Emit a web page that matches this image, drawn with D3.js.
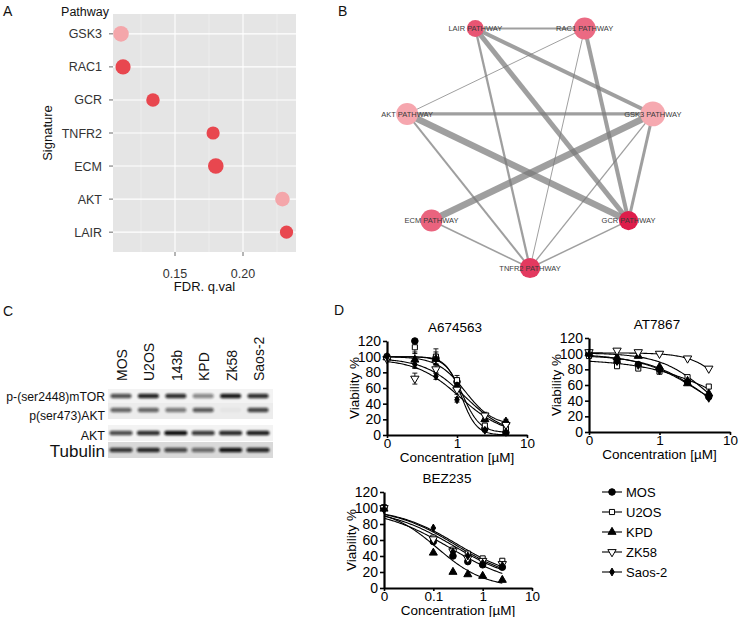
<!DOCTYPE html>
<html><head><meta charset="utf-8">
<script src="https://cdn.jsdelivr.net/npm/d3@7"></script>
<style>
body{margin:0;background:#fff}
svg{display:block}
text{font-family:"Liberation Sans",Arial,sans-serif}
</style>
</head><body>
<svg id="c" width="739" height="617"></svg>
<script>
// ---------- Panel A data ----------
const signatures = ["GSK3","RAC1","GCR","TNFR2","ECM","AKT","LAIR"];
const fdrQ = [0.1103,0.1118,0.1338,0.1780,0.1800,0.2290,0.2320];
const setSize = [56,53,42,40,56,49,40];
const direction = ["low","high","high","high","high","low","high"];
const fdrTicks = [0.15,0.20];
const fdrMinor = [0.125,0.175,0.225];

// ---------- Panel B data ----------
const nodeNames = ["TNFR2 PATHWAY","GCR PATHWAY","GSK3 PATHWAY","RAC1 PATHWAY","LAIR PATHWAY","AKT PATHWAY","ECM PATHWAY"];
const nodeSize = [100,90,150,117,70,117,117];
const nodeScore = [0.8,1.0,0.0,0.45,0.6,0.02,0.5];
const edgeFrom = ["LAIR PATHWAY","LAIR PATHWAY","LAIR PATHWAY","LAIR PATHWAY","RAC1 PATHWAY","RAC1 PATHWAY","RAC1 PATHWAY","AKT PATHWAY","AKT PATHWAY","AKT PATHWAY","GSK3 PATHWAY","GSK3 PATHWAY","GSK3 PATHWAY","ECM PATHWAY","GCR PATHWAY"];
const edgeTo   = ["RAC1 PATHWAY","GSK3 PATHWAY","GCR PATHWAY","TNFR2 PATHWAY","AKT PATHWAY","GCR PATHWAY","TNFR2 PATHWAY","GSK3 PATHWAY","GCR PATHWAY","TNFR2 PATHWAY","ECM PATHWAY","TNFR2 PATHWAY","GCR PATHWAY","TNFR2 PATHWAY","TNFR2 PATHWAY"];
const edgeWeight = [2,4,5,2.3,1,4,1,3.3,6.5,2,6.8,1.3,3,1.6,1.5];

// ---------- Panel C data ----------
const lanes = ["MOS","U2OS","143b","KPD","Zk58","Saos-2"];
const blotRows = ["p-(ser2448)mTOR","p(ser473)AKT","AKT","Tubulin"];
const bandMTOR = [0.70,0.90,0.85,0.45,0.95,0.85];
const bandPAKT = [0.60,0.60,0.50,0.65,0.03,0.75];
const bandAKT  = [0.72,0.85,1.00,0.80,0.88,0.92];
const bandTUB  = [0.80,0.88,0.72,0.55,0.97,0.88];

// ---------- Panel D data ----------
const cellLines = ["MOS","U2OS","KPD","ZK58","Saos-2"];
const concAT = [0,0.25,0.5,1,2.5,5];
const concBEZ = [0,0.1,0.25,0.5,1,2.5];
const viabA674563 = [
  [100,120,98,68,8,3],
  [100,112,100,70,12,8],
  [99,96,97,62,20,17],
  [97,72,84,58,25,13],
  [100,90,75,45,6,4]];
const errA674563 = [
  [0,2,8,5,3,1],
  [0,8,10,6,3,2],
  [0,10,6,5,3,3],
  [0,7,5,6,4,3],
  [0,5,4,3,2,1]];
const viabAT7867 = [
  [101,89,86,80,64,45],
  [97,84,81,77,70,58],
  [100,95,97,83,62,49],
  [102,104,102,100,94,81],
  [99,90,85,78,66,43]];
const viabBEZ235 = [
  [100,58,40,33,29,26],
  [101,63,48,43,37,34],
  [99,44,20,17,15,10],
  [100,61,46,37,34,30],
  [98,75,45,40,31,28]];
// fitted 4-parameter curves: top, bottom, IC50, hill
const fitA674563 = [[100,0,1.15,4],[100,3,1.2,3.5],[100,12,1.3,2.2],[98,0,1.3,1.5],[97,0,1.1,1.4]];
const fitAT7867  = [[98,0,4.2,1.1],[93,0,8,0.8],[101,0,4.8,1.3],[101,0,10.5,1.8],[100,0,4,1.0]];
const fitBEZ235  = [[100,0,0.22,0.62],[100,10,0.3,0.7],[100,0,0.12,0.9],[100,5,0.26,0.65],[100,8,0.28,0.7]];
const viabTicks = [0,20,40,60,80,100,120];

// =====================================================
const svg = d3.select("#c");
const panelLabel = (t,x,y)=>svg.append("text").attr("x",x).attr("y",y).attr("font-size",14).attr("fill","#111").text(t);

// ---------- Panel A ----------
(function(){
  const g = svg.append("g");
  const x = d3.scaleLinear().domain([0.15,0.20]).range([175,243]);
  const y = d3.scalePoint().domain(signatures).range([14,252]).padding(0.6);
  const r = d3.scaleSqrt().domain([0,56]).range([0,7.8]);
  const col = d3.scaleOrdinal().domain(["low","high"]).range(["#f4a6aa","#e8474f"]);
  const L=113,R=296,T=14,B=252;
  g.append("rect").attr("x",L).attr("y",T).attr("width",R-L).attr("height",B-T).attr("fill","#e5e5e5");
  g.selectAll(".mn").data(fdrMinor).join("line").attr("x1",d=>x(d)).attr("x2",d=>x(d)).attr("y1",T).attr("y2",B).attr("stroke","#f2f2f2").attr("stroke-width",0.6);
  g.selectAll(".mj").data(fdrTicks).join("line").attr("x1",d=>x(d)).attr("x2",d=>x(d)).attr("y1",T).attr("y2",B).attr("stroke","#fff").attr("stroke-width",1.1);
  g.selectAll(".hy").data(signatures).join("line").attr("x1",L).attr("x2",R).attr("y1",d=>y(d)).attr("y2",d=>y(d)).attr("stroke","#fff").attr("stroke-width",1.1);
  g.selectAll(".pt").data(signatures).join("circle")
    .attr("cx",(d,i)=>x(fdrQ[i])).attr("cy",d=>y(d)).attr("r",(d,i)=>r(setSize[i]))
    .attr("fill",(d,i)=>col(direction[i]));
  g.selectAll(".yt").data(signatures).join("line").attr("x1",L-4).attr("x2",L).attr("y1",d=>y(d)).attr("y2",d=>y(d)).attr("stroke","#444").attr("stroke-width",0.8);
  g.selectAll(".yl").data(signatures).join("text").attr("x",L-11).attr("y",d=>y(d)).attr("dy","0.36em")
    .attr("text-anchor","end").attr("font-size",12.5).attr("fill","#333").text(d=>d);
  g.selectAll(".xt").data(fdrTicks).join("line").attr("x1",d=>x(d)).attr("x2",d=>x(d)).attr("y1",B).attr("y2",B+4).attr("stroke","#444").attr("stroke-width",0.8);
  g.selectAll(".xl").data(fdrTicks).join("text").attr("x",d=>x(d)).attr("y",B+26).attr("text-anchor","middle").attr("font-size",12.5).attr("fill","#333").text(d=>d3.format(".2f")(d));
  g.append("text").attr("x",(L+R)/2).attr("y",291).attr("text-anchor","middle").attr("font-size",13).attr("fill","#111").text("FDR. q.val");
  g.append("text").attr("transform","translate(52,133) rotate(-90)").attr("text-anchor","middle").attr("font-size",13).attr("fill","#111").text("Signature");
  g.append("text").attr("x",L-4).attr("y",16).attr("text-anchor","end").attr("font-size",12.5).attr("fill","#111").text("Pathway");
})();
panelLabel("A",3,16);

// ---------- Panel B ----------
(function(){
  const g = svg.append("g");
  const cx=530, cy=142, R=126;
  const ang = d3.scalePoint().domain(nodeNames).range([0,6]);
  const pos = n=>{const a=(90-ang(n)*360/7)*Math.PI/180; return [cx+R*Math.cos(a), cy+R*Math.sin(a)];};
  const rs = d3.scaleSqrt().domain([0,150]).range([0,12.4]);
  const col = d3.scaleLinear().domain([0,1]).range(["#f6a9b0","#de1d4b"]).interpolate(d3.interpolateRgb);
  g.selectAll(".e").data(edgeFrom).join("line")
    .attr("x1",(d)=>pos(d)[0]).attr("y1",d=>pos(d)[1])
    .attr("x2",(d,i)=>pos(edgeTo[i])[0]).attr("y2",(d,i)=>pos(edgeTo[i])[1])
    .attr("stroke","#7a7a7a").attr("stroke-opacity",0.72).attr("stroke-width",(d,i)=>edgeWeight[i]);
  g.selectAll(".n").data(nodeNames).join("circle")
    .attr("cx",d=>pos(d)[0]).attr("cy",d=>pos(d)[1]).attr("r",(d,i)=>rs(nodeSize[i]))
    .attr("fill",(d,i)=>col(nodeScore[i]));
  g.selectAll(".t").data(nodeNames).join("text")
    .attr("x",d=>pos(d)[0]).attr("y",d=>pos(d)[1]).attr("dy","0.35em").attr("text-anchor","middle")
    .attr("font-size",7.5).attr("fill","#3a3a3a").text(d=>d);
})();
panelLabel("B",338,16);

// ---------- Panel C ----------
(function(){
  const g = svg.append("g");
  const defs = svg.append("defs");
  defs.append("filter").attr("id","blur").attr("x","-20%").attr("y","-50%").attr("width","140%").attr("height","200%")
    .append("feGaussianBlur").attr("stdDeviation",0.8);
  const lx = d3.scalePoint().domain(lanes).range([121,258]);
  const rowY = [396,410,433,450];
  const bg = [["#f3f3f3",389,14],["#ececec",403,16],["#f3f3f3",425,16],["#d9d9d9",442,16]];
  g.selectAll(".bg").data(bg).join("rect").attr("x",108).attr("y",d=>d[1]).attr("width",165).attr("height",d=>d[2]).attr("fill",d=>d[0]);
  const rowsData = [bandMTOR,bandPAKT,bandAKT,bandTUB];
  const bw=[19,19,21,21];
  rowsData.forEach((arr,ri)=>{
    g.selectAll(".b"+ri).data(lanes).join("rect")
      .attr("x",d=>lx(d)-bw[ri]/2-1).attr("y",rowY[ri]-2.2).attr("width",bw[ri]+2).attr("height",4.4).attr("rx",2)
      .attr("fill","#111").attr("opacity",(d,i)=>arr[i]).attr("filter","url(#blur)");
  });
  g.selectAll(".ln").data(lanes).join("text")
    .attr("transform",d=>`translate(${lx(d)+1},381) rotate(-90)`).attr("dy","0.36em")
    .attr("font-size",14).attr("fill","#111").text(d=>d);
  const fs = [12.2,12.2,12.5,17];
  const by = [401,420,440,457];
  g.selectAll(".rl").data(blotRows).join("text").attr("x",105).attr("y",(d,i)=>by[i]).attr("text-anchor","end")
    .attr("font-size",(d,i)=>fs[i]).attr("fill","#111").text(d=>d);
})();
panelLabel("C",3,316);

// ---------- Panel D ----------
const symbolFor = [d3.symbolCircle,d3.symbolSquare,d3.symbolTriangle,d3.symbolTriangle,d3.symbolDiamond];
const symSize = [34,26,28,30,18];
const symFill = ["#000","#fff","#000","#fff","#000"];
const symRot = [0,0,0,180,0];
function drawMarker(g,i,x,y){
  g.append("path").attr("d",d3.symbol().type(symbolFor[i]).size(symSize[i])())
    .attr("transform",`translate(${x},${y}) rotate(${symRot[i]})`)
    .attr("fill",symFill[i]).attr("stroke","#000").attr("stroke-width",1);
}
function doseChart(opt){
  const g = svg.append("g");
  const x = d3.scaleLog().domain([opt.zeroAt,10]).range([opt.x0,opt.x1]);
  const y = d3.scaleLinear().domain([0,120]).range([opt.y0,opt.y1]);
  const cx = c=> x(c===0?opt.zeroAt:c);
  opt.fits.forEach((f,i)=>{
    const lo = Math.log10(opt.zeroAt), hi = Math.log10(opt.conc[opt.conc.length-1]);
    const xs = d3.range(0,101).map(k=>Math.pow(10,lo+(hi-lo)*k/100));
    const line = d3.line().x(c=>x(c)).y(c=>y(f[1]+(f[0]-f[1])/(1+Math.pow(c/f[2],f[3]))));
    g.append("path").attr("d",line(xs)).attr("fill","none").attr("stroke","#000").attr("stroke-width",1.1);
  });
  if(opt.err){
    opt.vals.forEach((s,i)=>s.forEach((v,j)=>{
      const e=opt.err[i][j]; if(!e) return;
      const px=cx(opt.conc[j]);
      g.append("line").attr("x1",px).attr("x2",px).attr("y1",y(v-e)).attr("y2",y(v+e)).attr("stroke","#000").attr("stroke-width",0.9);
      [v-e,v+e].forEach(w=>g.append("line").attr("x1",px-2.5).attr("x2",px+2.5).attr("y1",y(w)).attr("y2",y(w)).attr("stroke","#000").attr("stroke-width",0.9));
    }));
  }
  opt.vals.forEach((s,i)=>s.forEach((v,j)=>drawMarker(g,i,cx(opt.conc[j]),y(v))));
  const ya = g.append("g").attr("transform",`translate(${opt.x0},0)`).call(d3.axisLeft(y).tickValues(viabTicks).tickSize(4).tickSizeOuter(0).tickPadding(2));
  const xa = g.append("g").attr("transform",`translate(0,${opt.y0})`).call(d3.axisBottom(x).tickValues(opt.xticks).tickFormat((d,i)=>opt.xlabels[i]).tickSize(3).tickSizeOuter(0).tickPadding(0));
  [ya,xa].forEach(a=>{
    a.select(".domain").attr("stroke-width",2.2).attr("stroke","#000");
    a.selectAll(".tick line").attr("stroke-width",1.6);
    a.selectAll("text").attr("font-size",14).attr("fill","#000").attr("font-family","Liberation Sans, Arial, sans-serif");
  });
  xa.selectAll("text").attr("font-size",13.5);
  g.append("text").attr("x",opt.titleX).attr("y",opt.y1-9).attr("text-anchor","middle").attr("font-size",13.5).text(opt.title);
  g.append("text").attr("transform",`translate(${opt.x0-28},${(opt.y0+opt.y1)/2}) rotate(-90)`).attr("text-anchor","middle").attr("font-size",13.5).text("Viability %");
  g.append("text").attr("x",(opt.x0+opt.x1)/2).attr("y",opt.y0+27).attr("text-anchor","middle").attr("font-size",13.5).text("Concentration [µM]");
}
doseChart({title:"A674563",titleX:455,x0:387,x1:527,y0:435,y1:341,zeroAt:0.1,conc:concAT,vals:viabA674563,err:errA674563,fits:fitA674563,xticks:[0.1,1,10],xlabels:["0","1","10"]});
doseChart({title:"AT7867",titleX:657,x0:589,x1:730,y0:432,y1:338,zeroAt:0.1,conc:concAT,vals:viabAT7867,fits:fitAT7867,xticks:[0.1,1,10],xlabels:["0","1","10"]});
doseChart({title:"BEZ235",titleX:447,x0:384,x1:532,y0:588,y1:492,zeroAt:0.01,conc:concBEZ,vals:viabBEZ235,fits:fitBEZ235,xticks:[0.01,0.1,1,10],xlabels:["0","0.1","1","10"]});

(function(){
  const g = svg.append("g");
  const ly = d3.scalePoint().domain(cellLines).range([492,572]);
  cellLines.forEach((c,i)=>{
    g.append("line").attr("x1",602).attr("x2",622).attr("y1",ly(c)).attr("y2",ly(c)).attr("stroke","#000").attr("stroke-width",1.1);
    drawMarker(g,i,612,ly(c));
    g.append("text").attr("x",626).attr("y",ly(c)).attr("dy","0.36em").attr("font-size",13).text(c);
  });
})();
panelLabel("D",334,315);
</script>
</body></html>
